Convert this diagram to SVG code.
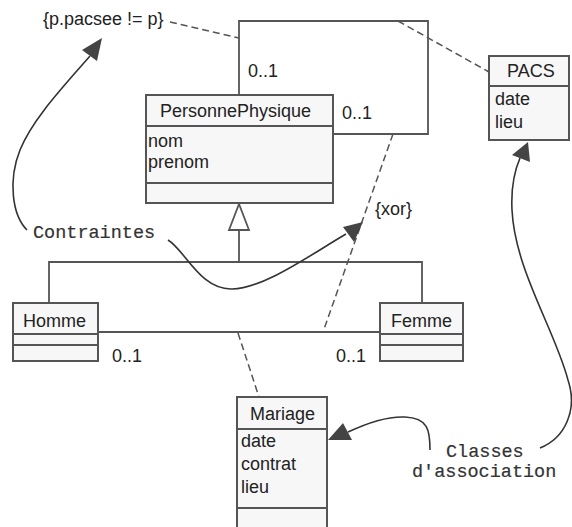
<svg xmlns="http://www.w3.org/2000/svg" width="572" height="527" viewBox="0 0 572 527">
<style>
.box{fill:#f7f7f7;stroke:#555;stroke-width:2}
.sep{stroke:#555;stroke-width:2;fill:none}
.ln{stroke:#555;stroke-width:1.8;fill:none}
.dash{stroke:#555;stroke-width:1.5;fill:none;stroke-dasharray:7 4}
.curve{stroke:#333;stroke-width:1.6;fill:none}
.head{fill:#444;stroke:none}
.t{font-family:"Liberation Sans",Arial,sans-serif;font-size:18px;fill:#222}
.m{font-family:"Liberation Mono","Courier New",monospace;font-size:18.5px;fill:#333;stroke:#333;stroke-width:0.2}
</style>
<rect width="572" height="527" fill="#fff"/>
<g id="connectors">
  <polyline class="ln" points="239,95 239,21 428,21 428,134 333,134"/>
  <line class="dash" x1="170" y1="22" x2="239" y2="38"/>
  <line class="dash" x1="398" y1="21" x2="489" y2="72"/>
  <line class="dash" x1="393" y1="134" x2="323" y2="332"/>
  <line class="ln" x1="98" y1="332" x2="380" y2="332"/>
  <line class="dash" x1="238" y1="333" x2="259" y2="397"/>
  <polyline class="ln" points="49,303 49,262 422,262 422,303"/>
  <line class="ln" x1="239" y1="262" x2="239" y2="230"/>
  <polygon points="239,204 229,230 249,230" fill="#fff" stroke="#555" stroke-width="1.8"/>
  <path class="curve" d="M27,230 C12,215 8,180 20,150 C32,120 62,88 90,56"/>
  <polygon class="head" points="102,38 82,50 97,61"/>
  <path class="curve" d="M168,240 C185,250 200,290 232,289 C265,288 310,255 346,234"/>
  <polygon class="head" points="363,222 343,227 354,242"/>
  <path class="curve" d="M540,448 C565,438 578,410 568,380 C555,330 515,270 512,210 C511,190 514,172 520,158"/>
  <polygon class="head" points="528,142 512,155 530,162"/>
  <path class="curve" d="M430,450 C430,430 428,418 405,417 C385,416 365,424 348,432"/>
  <polygon class="head" points="328,440 343,423 352,440"/>
</g>
<g id="PersonnePhysique">
  <rect class="box" x="146" y="95" width="187" height="108"/>
  <line class="sep" x1="146" y1="126" x2="333" y2="126"/>
  <line class="sep" x1="146" y1="183" x2="333" y2="183"/>
  <text class="t" x="160" y="117">PersonnePhysique</text>
  <text class="t" x="148" y="147">nom</text>
  <text class="t" x="148" y="168">prenom</text>
</g>
<g id="PACS">
  <rect class="box" x="489" y="56" width="80" height="84"/>
  <line class="sep" x1="489" y1="86" x2="569" y2="86"/>
  <text class="t" x="507" y="77">PACS</text>
  <text class="t" x="495" y="105">date</text>
  <text class="t" x="495" y="128">lieu</text>
</g>
<g id="Homme">
  <rect class="box" x="13" y="303" width="85" height="58"/>
  <line class="sep" x1="13" y1="334" x2="98" y2="334"/>
  <line class="sep" x1="13" y1="345" x2="98" y2="345"/>
  <text class="t" x="23" y="327">Homme</text>
</g>
<g id="Femme">
  <rect class="box" x="380" y="303" width="83" height="58"/>
  <line class="sep" x1="380" y1="334" x2="463" y2="334"/>
  <line class="sep" x1="380" y1="345" x2="463" y2="345"/>
  <text class="t" x="391" y="327">Femme</text>
</g>
<g id="Mariage">
  <rect class="box" x="237" y="397" width="90" height="140"/>
  <line class="sep" x1="237" y1="429" x2="327" y2="429"/>
  <line class="sep" x1="237" y1="508" x2="327" y2="508"/>
  <text class="t" x="250" y="420">Mariage</text>
  <text class="t" x="241" y="447">date</text>
  <text class="t" x="241" y="470">contrat</text>
  <text class="t" x="241" y="493">lieu</text>
</g>
<g id="labels">
  <text class="t" x="43" y="25">{p.pacsee != p}</text>
  <text class="t" x="248" y="77">0..1</text>
  <text class="t" x="342" y="119">0..1</text>
  <text class="t" x="375" y="215">{xor}</text>
  <text class="t" x="112" y="362">0..1</text>
  <text class="t" x="336" y="362">0..1</text>
  <text class="m" x="33" y="238">Contraintes</text>
  <text class="m" x="446" y="457">Classes</text>
  <text class="m" x="412" y="477">d'association</text>
</g>
</svg>
